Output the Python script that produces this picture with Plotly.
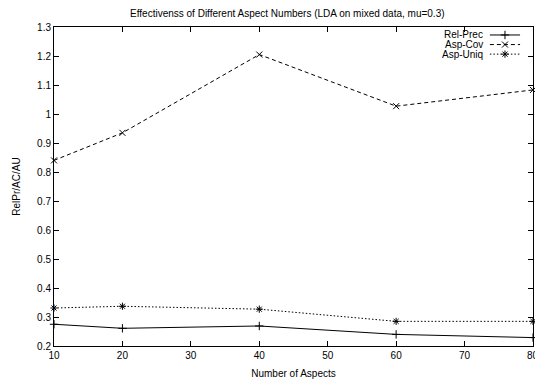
import plotly.graph_objects as go

aspects = [10, 20, 40, 60, 80]
rel_prec = [0.275, 0.261, 0.269, 0.240, 0.229]
asp_cov = [0.840, 0.935, 1.205, 1.027, 1.083]
asp_uniq = [0.331, 0.337, 0.327, 0.285, 0.285]

series_names = ["Rel-Prec", "Asp-Cov", "Asp-Uniq"]
series_vals = [rel_prec, asp_cov, asp_uniq]
dashes = ["solid", "4px,3px", "1.5px,2px"]
symbols = ["cross-thin-open", "x-thin-open", "asterisk-open"]

x_ticks = [10, 20, 30, 40, 50, 60, 70, 80]
x_ticktext = ["10", "20", "30", "40", "50", "60", "70", ""]
y_ticks = [0.2, 0.3, 0.4, 0.5, 0.6, 0.7, 0.8, 0.9, 1.0, 1.1, 1.2, 1.3]
y_ticktext = ["0.2", "0.3", "0.4", "0.5", "0.6", "0.7", "0.8", "0.9", "1", "1.1", "1.2", "1.3"]

FONT = "Liberation Sans, Arial, sans-serif"

fig = go.Figure()
for name, vals, d, s in zip(series_names, series_vals, dashes, symbols):
    fig.add_trace(go.Scatter(
        x=aspects, y=vals, mode="lines+markers", name=name,
        line=dict(color="black", width=1, dash=d),
        marker=dict(symbol=s, size=6, color="black", line=dict(color="black", width=1)),
        showlegend=False, cliponaxis=False,
    ))

# custom gnuplot-style legend (text on left, sample on right)
leg_y = [0.975, 0.945, 0.915]
for name, d, s, ly in zip(series_names, dashes, symbols, leg_y):
    fig.add_trace(go.Scatter(
        x=[0.91, 0.9415, 0.973], y=[ly, ly, ly], xaxis="x2", yaxis="y2",
        mode="lines", line=dict(color="black", width=1, dash=d),
        showlegend=False, hoverinfo="skip",
    ))
    fig.add_trace(go.Scatter(
        x=[0.9415], y=[ly], xaxis="x2", yaxis="y2", mode="markers",
        marker=dict(symbol=s, size=6, color="black", line=dict(color="black", width=1)),
        showlegend=False, hoverinfo="skip",
    ))
    fig.add_annotation(x=0.90, y=ly, xref="x2", yref="y2", text=name,
                       showarrow=False, xanchor="right", yanchor="middle",
                       font=dict(family=FONT, size=10, color="black"))

# last x tick label, partly cut by the page edge as in the original
fig.add_annotation(x=x_ticks[-1], y=0, xref="x", yref="paper", text=str(x_ticks[-1]),
                   showarrow=False, xanchor="center", yanchor="top", yshift=-2,
                   font=dict(family=FONT, size=10, color="black"))

fig.update_layout(
    width=535, height=381,
    margin=dict(l=54, r=2, t=27, b=35),
    paper_bgcolor="white", plot_bgcolor="white",
    font=dict(family=FONT, size=10, color="black"),
    title=dict(text="Effectivenss of Different Aspect Numbers (LDA on mixed data, mu=0.3)",
               x=0.537, xanchor="center", y=0.965, yanchor="middle",
               font=dict(family=FONT, size=10, color="black")),
    xaxis=dict(range=[10, 80], tickvals=x_ticks, ticktext=x_ticktext, ticks="inside", ticklen=5,
               showline=True, linecolor="black", linewidth=1, mirror="allticks",
               showgrid=False, zeroline=False, tickcolor="black",
               title=dict(text="Number of Aspects", standoff=9,
                          font=dict(family=FONT, size=10))),
    yaxis=dict(range=[0.2, 1.3], tickvals=y_ticks, ticktext=y_ticktext,
               ticks="inside", ticklen=5,
               showline=True, linecolor="black", linewidth=1, mirror="allticks",
               showgrid=False, zeroline=False, tickcolor="black",
               title=dict(text="RelPr/AC/AU", standoff=14,
                          font=dict(family=FONT, size=10))),
    xaxis2=dict(range=[0, 1], overlaying="x", visible=False),
    yaxis2=dict(range=[0, 1], overlaying="y", visible=False),
)

fig.write_html("out.html")
